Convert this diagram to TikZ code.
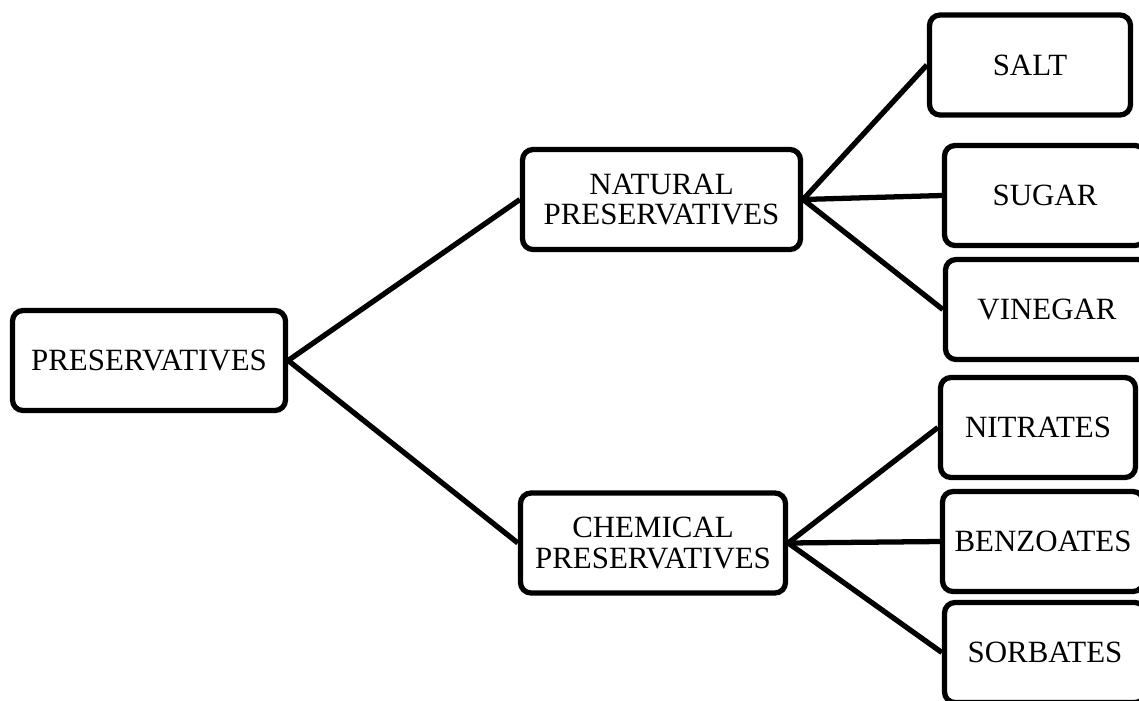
\documentclass[tikz,border=0pt]{standalone}
\usepackage{fontspec}
\setmainfont{Liberation Serif}
\begin{document}
\begin{tikzpicture}[x=0.02cm,y=-0.02cm,
  box/.style={draw=black, line width=3pt, rounded corners=6pt, fill=white,
    align=center, inner sep=0pt, font=\fontsize{17.6}{17.2}\selectfont,
    minimum height=100*0.02cm},
  link/.style={line width=3pt, black}]
\useasboundingbox (0,0) rectangle (1139,700);
\node[box, minimum width=273*0.02cm] (p) at (149,360.5) {PRESERVATIVES};
\node[box, minimum width=278*0.02cm] (n) at (661.5,199.5) {NATURAL\\PRESERVATIVES};
\node[box, minimum width=265*0.02cm] (c) at (653,543) {CHEMICAL\\PRESERVATIVES};
\node[box, minimum width=201*0.02cm] (salt) at (1030,65) {SALT};
\node[box, minimum width=201*0.02cm] (sugar) at (1045,195.5) {SUGAR};
\node[box, minimum width=203*0.02cm] (vin) at (1047,309.5) {VINEGAR};
\node[box, minimum width=195*0.02cm] (nit) at (1038,427.5) {NITRATES};
\node[box, minimum width=201*0.02cm] (ben) at (1043,541.5) {BENZOATES};
\node[box, minimum width=201*0.02cm] (sor) at (1045,652.5) {SORBATES};
\draw[link] (p.east) -- (n.west);
\draw[link] (p.east) -- (c.west);
\draw[link] (n.east) -- (salt.west);
\draw[link] (n.east) -- (sugar.west);
\draw[link] (n.east) -- (vin.west);
\draw[link] (c.east) -- (nit.west);
\draw[link] (c.east) -- (ben.west);
\draw[link] (c.east) -- (sor.west);
\end{tikzpicture}
\end{document}
